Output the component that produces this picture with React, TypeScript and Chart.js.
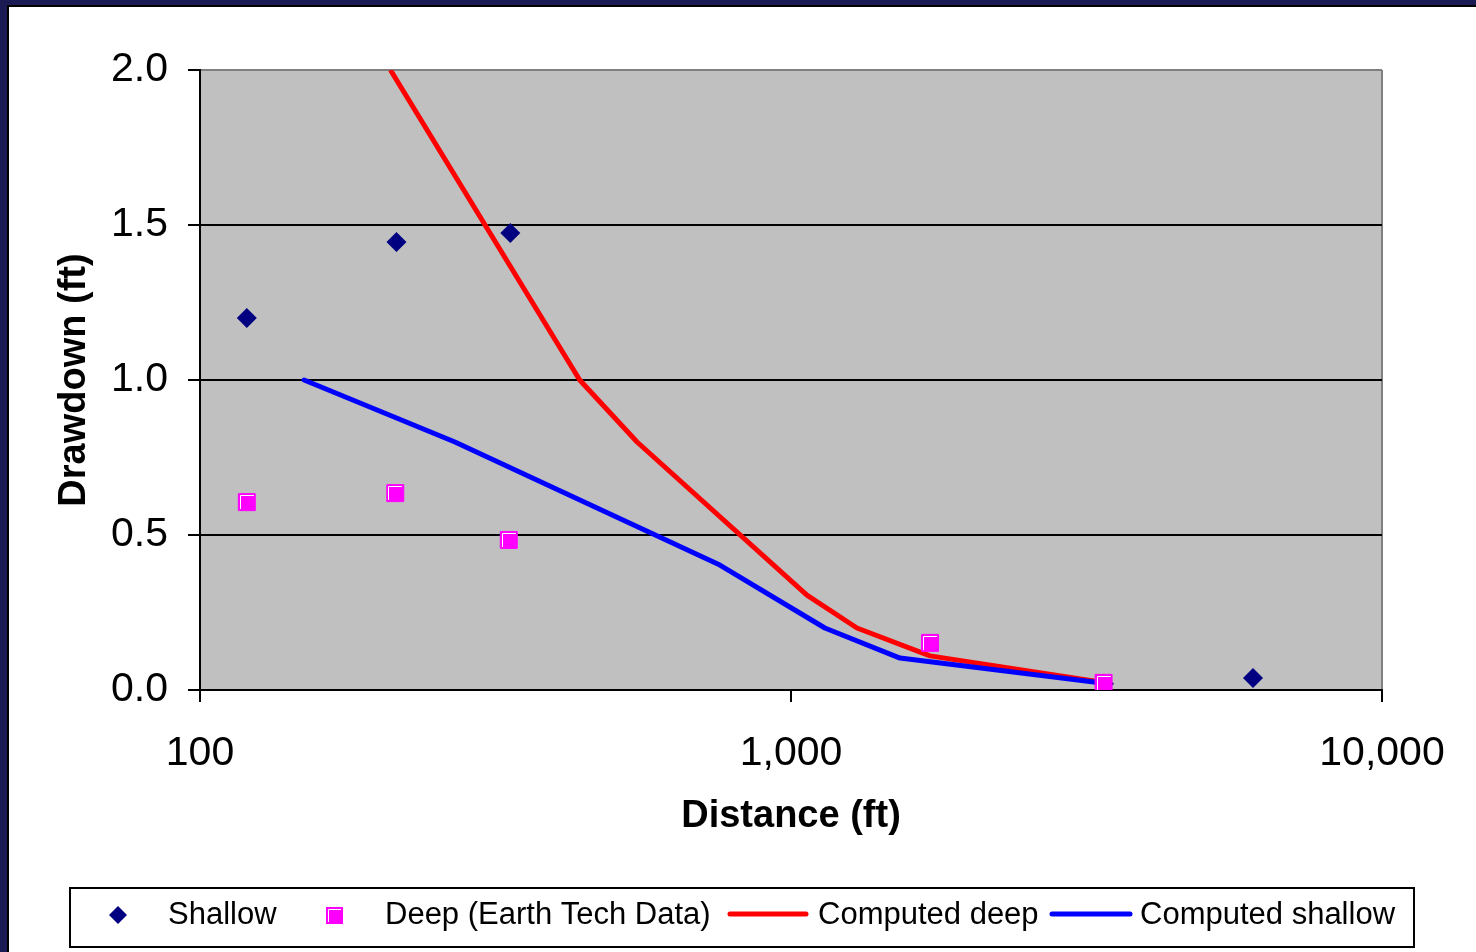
import React, { useEffect, useRef } from 'react';
import { Chart, registerables } from 'chart.js';

Chart.register(...registerables);

// ---- Data ----
const shallowDistance = [120, 215, 335, 3385, 6050];
const shallowDrawdown = [1.2, 1.445, 1.474, 0.02, 0.039];

const deepDistance = [120, 214, 333, 1719, 3380];
const deepDrawdown = [0.606, 0.635, 0.484, 0.152, 0.023];

const computedDeepDistance = [210, 439, 549, 1064, 1293, 1719, 3333];
const computedDeepDrawdown = [2.0, 1.0, 0.8, 0.306, 0.2, 0.11, 0.026];

const computedShallowDistance = [150, 270, 758, 1141, 1529, 3439];
const computedShallowDrawdown = [1.0, 0.8, 0.403, 0.2, 0.103, 0.02];

const xTicks = [100, 1000, 10000];
const yTicks = [0, 0.5, 1.0, 1.5, 2.0];

const seriesNames = ['Shallow', 'Deep (Earth Tech Data)', 'Computed deep', 'Computed shallow'];
const xTitle = 'Distance (ft)';
const yTitle = 'Drawdown (ft)';

const FONT = '"Liberation Sans", Arial, Helvetica, sans-serif';
const NAVY = '#000080';
const MAGENTA = '#ff00ff';
const RED = '#ff0000';
const BLUE = '#0000ff';

const pts = (xs: number[], ys: number[]) => xs.map((x, i) => ({ x, y: ys[i] }));

const framePlugin = {
  id: 'frame',
  beforeDraw(chart: any) {
    const { ctx, width, height, chartArea } = chart;
    ctx.save();
    ctx.fillStyle = '#ffffff';
    ctx.fillRect(0, 0, width, height);
    // dark frame (left / top)
    ctx.fillStyle = '#1b1a52';
    ctx.fillRect(0, 0, 7, height);
    ctx.fillRect(0, 0, width, 5);
    ctx.fillStyle = '#000000';
    ctx.fillRect(7, 5, 2, height - 5);
    ctx.fillRect(7, 5, width - 7, 2);
    // plot area
    ctx.fillStyle = '#c0c0c0';
    ctx.fillRect(chartArea.left, chartArea.top, chartArea.right - chartArea.left, chartArea.bottom - chartArea.top);
    ctx.restore();
  },
  afterDatasetsDraw(chart: any) {
    // Excel-like highlight on the square markers (dataset 0 = Deep)
    const { ctx } = chart;
    const meta = chart.getDatasetMeta(0);
    ctx.save();
    ctx.strokeStyle = '#ffffff';
    ctx.lineWidth = 1;
    meta.data.forEach((el: any) => {
      const x = Math.round(el.x);
      const y = Math.round(el.y);
      ctx.beginPath();
      ctx.moveTo(x - 6.5, y + 7);
      ctx.lineTo(x - 6.5, y - 6.5);
      ctx.lineTo(x + 7, y - 6.5);
      ctx.stroke();
    });
    ctx.restore();
  },
  afterDraw(chart: any) {
    const { ctx } = chart;
    ctx.save();
    // legend box
    ctx.strokeStyle = '#000';
    ctx.lineWidth = 2;
    ctx.strokeRect(70, 888, 1344, 59);
    const cy = 915;
    // diamond
    ctx.fillStyle = NAVY;
    ctx.beginPath();
    ctx.moveTo(109, cy);
    ctx.lineTo(118, cy - 9);
    ctx.lineTo(127, cy);
    ctx.lineTo(118, cy + 9);
    ctx.closePath();
    ctx.fill();
    // square
    ctx.fillStyle = MAGENTA;
    ctx.fillRect(326, cy - 8, 17, 17);
    ctx.strokeStyle = '#fff';
    ctx.lineWidth = 1;
    ctx.beginPath();
    ctx.moveTo(328.5, cy + 7);
    ctx.lineTo(328.5, cy - 5.5);
    ctx.lineTo(341, cy - 5.5);
    ctx.stroke();
    // lines
    ctx.lineCap = 'round';
    ctx.lineWidth = 5;
    ctx.strokeStyle = RED;
    ctx.beginPath();
    ctx.moveTo(730, 914);
    ctx.lineTo(806, 914);
    ctx.stroke();
    ctx.strokeStyle = BLUE;
    ctx.beginPath();
    ctx.moveTo(1052, 914);
    ctx.lineTo(1130, 914);
    ctx.stroke();
    // texts
    ctx.fillStyle = '#000';
    ctx.font = `31px ${FONT}`;
    ctx.textBaseline = 'alphabetic';
    ctx.textAlign = 'left';
    ctx.fillText(seriesNames[0], 168, 924);
    ctx.fillText(seriesNames[1], 385, 924);
    ctx.fillText(seriesNames[2], 818, 924);
    ctx.fillText(seriesNames[3], 1140, 924);
    ctx.restore();
  },
};

export default function App() {
  const ref = useRef<HTMLCanvasElement | null>(null);

  useEffect(() => {
    document.body.style.margin = '0';
    const canvas = ref.current;
    if (!canvas) return;
    const chart = new Chart(canvas, {
      type: 'scatter',
      data: {
        datasets: [
          {
            label: seriesNames[1],
            data: pts(deepDistance, deepDrawdown),
            pointStyle: 'rect',
            pointRadius: 12,
            pointBackgroundColor: MAGENTA,
            pointBorderColor: MAGENTA,
            pointBorderWidth: 1,
            showLine: false,
            order: 0,
          },
          {
            label: seriesNames[3],
            data: pts(computedShallowDistance, computedShallowDrawdown),
            showLine: true,
            borderColor: BLUE,
            borderWidth: 5,
            borderCapStyle: 'round',
            borderJoinStyle: 'round',
            pointRadius: 0,
            order: 1,
          },
          {
            label: seriesNames[2],
            data: pts(computedDeepDistance, computedDeepDrawdown),
            showLine: true,
            borderColor: RED,
            borderWidth: 5,
            borderCapStyle: 'butt',
            borderJoinStyle: 'round',
            pointRadius: 0,
            order: 2,
          },
          {
            label: seriesNames[0],
            data: pts(shallowDistance, shallowDrawdown),
            pointStyle: 'rectRot',
            pointRadius: 10,
            pointBackgroundColor: NAVY,
            pointBorderColor: NAVY,
            pointBorderWidth: 0,
            showLine: false,
            order: 3,
          },
        ] as any,
      },
      options: {
        responsive: false,
        animation: false,
        devicePixelRatio: 1,
        layout: { padding: { left: 52, top: 70, right: 94, bottom: 113 } },
        plugins: {
          legend: { display: false },
          tooltip: { enabled: false },
        },
        scales: {
          x: {
            type: 'logarithmic',
            min: 100,
            max: 10000,
            afterFit: (s: any) => { s.height = 149; },
            afterBuildTicks: (s: any) => { s.ticks = xTicks.map((v) => ({ value: v, major: true })); },
            ticks: {
              autoSkip: false,
              maxRotation: 0,
              padding: 27,
              color: '#000',
              font: { family: FONT, size: 41 },
              callback: (v: any) => Number(v).toLocaleString('en-US'),
            },
            grid: {
              drawOnChartArea: true,
              color: (c: any) => (c.tick && c.tick.value === 10000 ? '#808080' : 'rgba(0,0,0,0)'),
              tickColor: '#000',
              tickLength: 12,
              lineWidth: 2,
            },
            border: { display: true, color: '#000', width: 2 },
            title: {
              display: true,
              text: xTitle,
              color: '#000',
              padding: 0,
              font: { family: FONT, size: 38, weight: 'bold' },
            },
          },
          y: {
            type: 'linear',
            min: 0,
            max: 2,
            afterFit: (s: any) => { s.width = 148; },
            afterBuildTicks: (s: any) => { s.ticks = yTicks.map((v) => ({ value: v })); },
            ticks: {
              padding: 20,
              color: '#000',
              font: { family: FONT, size: 41 },
              callback: (v: any) => Number(v).toFixed(1),
            },
            grid: {
              color: (c: any) => (c.tick && c.tick.value === 2 ? '#808080' : '#000'),
              tickColor: '#000',
              tickLength: 12,
              lineWidth: 2,
            },
            border: { display: true, color: '#000', width: 2 },
            title: {
              display: true,
              text: yTitle,
              color: '#000',
              padding: 0,
              font: { family: FONT, size: 38, weight: 'bold' },
            },
          },
        },
      } as any,
      plugins: [framePlugin],
    });
    return () => chart.destroy();
  }, []);

  return (
    <div style={{ position: 'absolute', left: 0, top: 0, width: 1476, height: 952 }}>
      <canvas ref={ref} width={1476} height={952} style={{ display: 'block', width: 1476, height: 952 }} />
    </div>
  );
}
